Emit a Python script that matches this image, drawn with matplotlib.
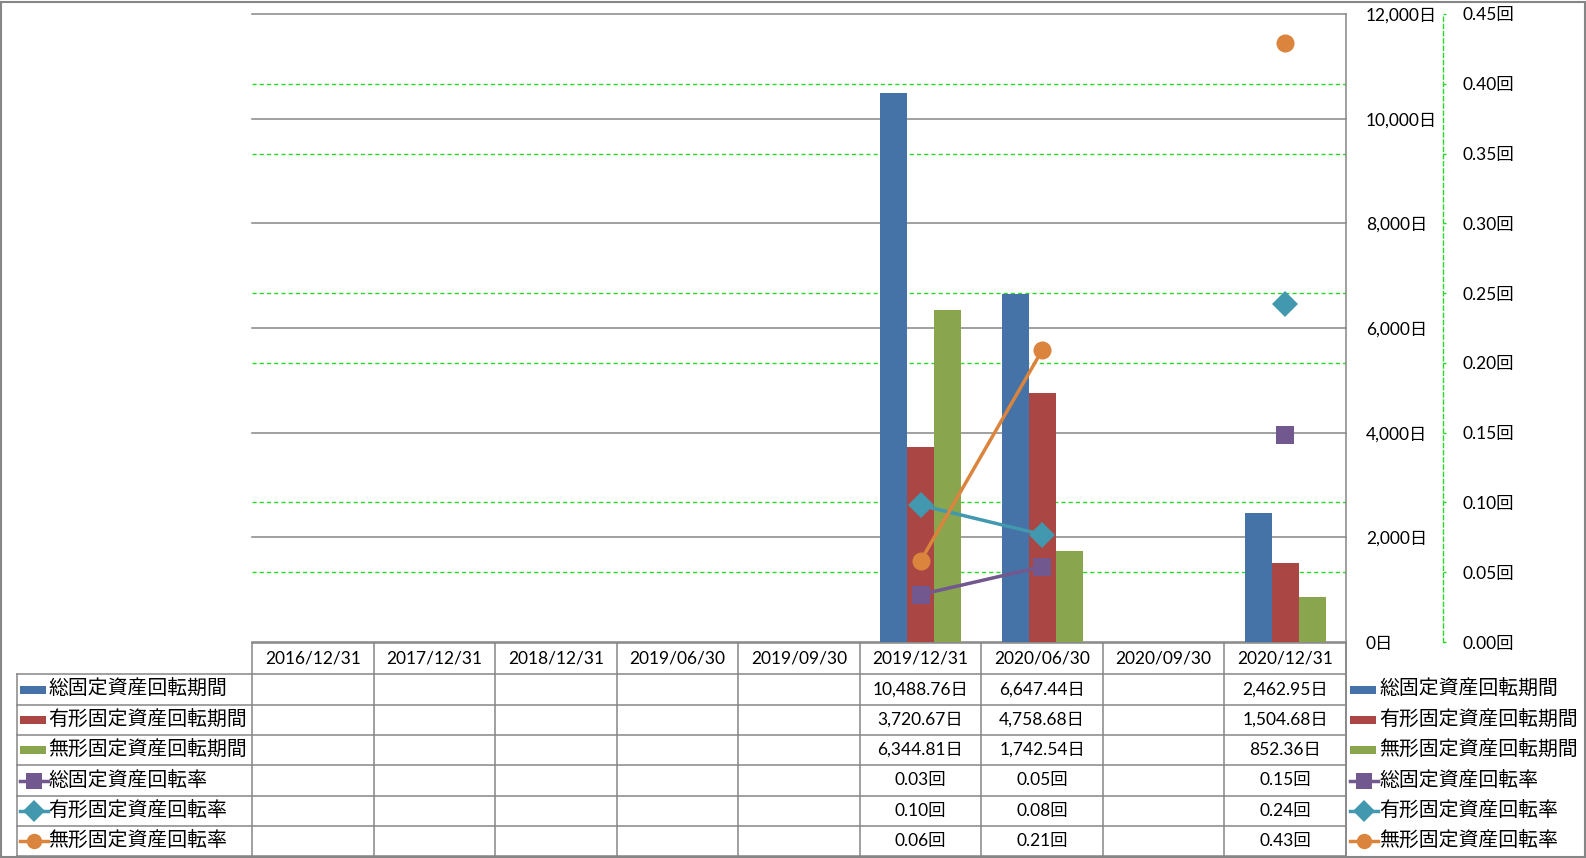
import numpy as np
import matplotlib
matplotlib.use("Agg")
import matplotlib.pyplot as plt
from matplotlib.lines import Line2D
from matplotlib.patches import Rectangle

plt.rcParams['font.family'] = ['Lato', 'Noto Sans CJK JP', 'DejaVu Sans']
plt.rcParams['lines.scale_dashes'] = False

# ---------------- data ----------------
categories = ["2016/12/31", "2017/12/31", "2018/12/31", "2019/06/30", "2019/09/30",
              "2019/12/31", "2020/06/30", "2020/09/30", "2020/12/31"]
nan = np.nan
total_days = [nan, nan, nan, nan, nan, 10488.76, 6647.44, nan, 2462.95]
tangible_days = [nan, nan, nan, nan, nan, 3720.67, 4758.68, nan, 1504.68]
intangible_days = [nan, nan, nan, nan, nan, 6344.81, 1742.54, nan, 852.36]
total_rate = [nan, nan, nan, nan, nan, 0.034, 0.054, nan, 0.148]
tangible_rate = [nan, nan, nan, nan, nan, 0.098, 0.077, nan, 0.242]
intangible_rate = [nan, nan, nan, nan, nan, 0.058, 0.209, nan, 0.429]

bar_names = ["総固定資産回転期間", "有形固定資産回転期間", "無形固定資産回転期間"]
line_names = ["総固定資産回転率", "有形固定資産回転率", "無形固定資産回転率"]
days_ticks = [0, 2000, 4000, 6000, 8000, 10000, 12000]
rate_ticks = [0.00, 0.05, 0.10, 0.15, 0.20, 0.25, 0.30, 0.35, 0.40, 0.45]

# ---------------- style ----------------
bar_colors = ["#4572A7", "#AA4643", "#89A54E"]
line_colors = ["#71588F", "#4198AF", "#DB843D"]
line_markers = ["s", "D", "o"]
marker_sizes = [13, 13.5, 13]
GRAY = "#868686"
GREEN = "#2ad82a"

W, H = 1586, 858
fig = plt.figure(figsize=(W / 100, H / 100), dpi=100)
fig.patch.set_facecolor("white")

L, R, T, B = 252, 1346, 14, 642
ax = fig.add_axes([L / W, (H - B) / H, (R - L) / W, (B - T) / H])
ax.set_facecolor("none")
n = len(categories)
x = np.arange(n)
bw = 1 / 4.5
series = [total_days, tangible_days, intangible_days]
for i, (vals, col) in enumerate(zip(series, bar_colors)):
    ax.bar(x + (i - 1) * bw, vals, width=bw, color=col, zorder=3, linewidth=0)
ax.set_xlim(-0.5, n - 0.5)
ax.set_ylim(0, 12000)
for s in ax.spines.values():
    s.set_visible(False)
# green dashed gridlines for secondary axis (where they do not coincide with primary grid)
for v in rate_ticks[1:]:
    yv = v * 12000 / 0.45
    if min(abs(yv - d) for d in days_ticks) < 1:
        continue
    ax.axhline(yv, color=GREEN, lw=1.0, linestyle=(0, (3.0, 2.2)), zorder=1)
for v in days_ticks:
    ax.axhline(v, color=GRAY, lw=1.1, zorder=2, clip_on=False)

ax2 = ax.twinx()
ax2.set_ylim(0, 0.45)
ax2.set_facecolor("none")
for i, (vals, col, mk, ms) in enumerate(zip([total_rate, tangible_rate, intangible_rate],
                                           line_colors, line_markers, marker_sizes)):
    ax2.plot(x, vals, color=col, lw=2.5, marker=mk, markersize=ms,
             markeredgewidth=0, zorder=5)
ax2.set_yticks(rate_ticks)
ax2.set_yticklabels([f"{v:.2f}回" for v in rate_ticks])
for k, s in ax2.spines.items():
    s.set_visible(k == 'right')
ax2.spines['right'].set_position(('outward', 97 * 0.72))
ax2.spines['right'].set_color(GREEN)
ax2.spines['right'].set_linestyle((0, (3.0, 2.2)))
ax2.spines['right'].set_linewidth(1.0)
ax2.tick_params(axis='y', length=2.2, width=1.0, color=GREEN, pad=11.5, direction='out',
                labelsize=12.5)

# primary axis labels on the right (after twinx)
ax.set_yticks(days_ticks)
ax.set_yticklabels([f"{v:,}日" for v in days_ticks])
ax.yaxis.set_ticks_position('right')
ax.yaxis.set_label_position('right')
ax.tick_params(axis='y', length=0, pad=14.4, right=True, left=False,
               labelright=True, labelleft=False, labelsize=12.5)
ax.tick_params(axis='x', bottom=False, labelbottom=False)

# ---------------- overlay (table, legends, frame) ----------------
ov = fig.add_axes([0, 0, 1, 1], zorder=10)
ov.set_xlim(0, W)
ov.set_ylim(H, 0)
ov.axis('off')
ov.patch.set_alpha(0)

def hline(y, x0, x1):
    ov.add_line(Line2D([x0, x1], [y, y], color=GRAY, lw=1.1))

def vline(xx, y0, y1):
    ov.add_line(Line2D([xx, xx], [y0, y1], color=GRAY, lw=1.1))

# outer frame
ov.add_patch(Rectangle((0.5, 1.5), W - 2, H - 3, fill=False, edgecolor=GRAY, lw=1.5))

colw = (R - L) / n
row_y = [643, 674, 705, 735, 765, 796, 826, 856]
TL = 17
hline(row_y[0], L, R)
for y in row_y[1:]:
    hline(y, TL, R)
vline(TL, row_y[1], row_y[-1])
for j in range(n + 1):
    vline(L + j * colw, row_y[0], row_y[-1])
vline(R, T, row_y[-1])

# header
for j, c in enumerate(categories):
    ov.text(L + (j + 0.5) * colw, (row_y[0] + row_y[1]) / 2, c, ha='center', va='center',
            fontsize=12.5, color='black')

# cells
row_vals = series + [total_rate, tangible_rate, intangible_rate]
for r, vals in enumerate(row_vals):
    yc = (row_y[r + 1] + row_y[r + 2]) / 2
    for j, v in enumerate(vals):
        if np.isnan(v):
            continue
        s = f"{v:,.2f}日" if r < 3 else f"{v:.2f}回"
        ov.text(L + (j + 0.5) * colw, yc, s, ha='center', va='center', fontsize=12.5,
                color='black')

# legend keys (left row headers and right legend)
names = bar_names + line_names
def key(x0, yc, r):
    if r < 3:
        ov.add_patch(Rectangle((x0, yc - 4), 26, 8, color=bar_colors[r], lw=0))
    else:
        k = r - 3
        ov.add_line(Line2D([x0, x0 + 28], [yc, yc], color=line_colors[k], lw=2.5))
        ov.add_line(Line2D([x0 + 14], [yc], color=line_colors[k], marker=line_markers[k],
                           markersize=marker_sizes[k] * 0.85, markeredgewidth=0))

for r, nm in enumerate(names):
    yc = (row_y[r + 1] + row_y[r + 2]) / 2
    key(20, yc, r)
    ov.text(48, yc, nm, ha='left', va='center', fontsize=14.3, color='black',
            family=['Noto Sans CJK JP'])
    key(1350, yc, r)
    ov.text(1379, yc, nm, ha='left', va='center', fontsize=14.3, color='black',
            family=['Noto Sans CJK JP'])

fig.savefig("out.png", dpi=100)
